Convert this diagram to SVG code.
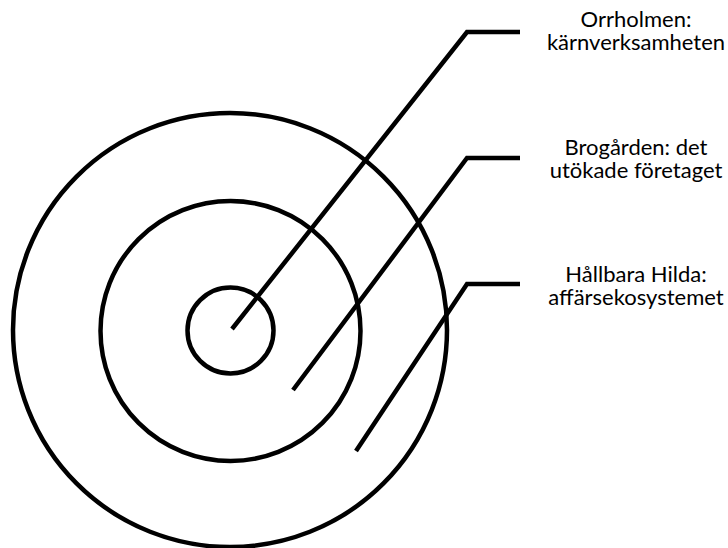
<svg xmlns="http://www.w3.org/2000/svg" width="728" height="548" viewBox="0 0 728 548">
<style>
.ring{fill:none;stroke:#000;stroke-width:4.5}
.conn{fill:none;stroke:#000;stroke-width:4.5;stroke-linejoin:miter}
.lbl{font-family:Lato,"Open Sans","Liberation Sans",sans-serif;font-size:22px;fill:#000;text-anchor:middle}
</style>
<rect width="728" height="548" fill="#fff"/>
<g id="ring-outer"><circle class="ring" cx="230" cy="330" r="217"/></g>
<g id="ring-middle"><circle class="ring" cx="230.5" cy="331" r="130"/></g>
<g id="ring-inner"><circle class="ring" cx="230.5" cy="330.5" r="43"/></g>
<g id="connectors">
<polyline class="conn" points="232,329 467,32 520,32"/>
<polyline class="conn" points="293,390 467,158 520,158"/>
<polyline class="conn" points="356,451 467,284 520,284"/>
</g>
<g id="label-orrholmen"><text class="lbl" x="636" y="27"><tspan x="636">Orrholmen:</tspan><tspan x="636" y="50">kärnverksamheten</tspan></text></g>
<g id="label-brogarden"><text class="lbl" x="636" y="155"><tspan x="636">Brogården: det</tspan><tspan x="636" y="178">utökade företaget</tspan></text></g>
<g id="label-hilda"><text class="lbl" x="636" y="282"><tspan x="636">Hållbara Hilda:</tspan><tspan x="636" y="305">affärsekosystemet</tspan></text></g>
</svg>
